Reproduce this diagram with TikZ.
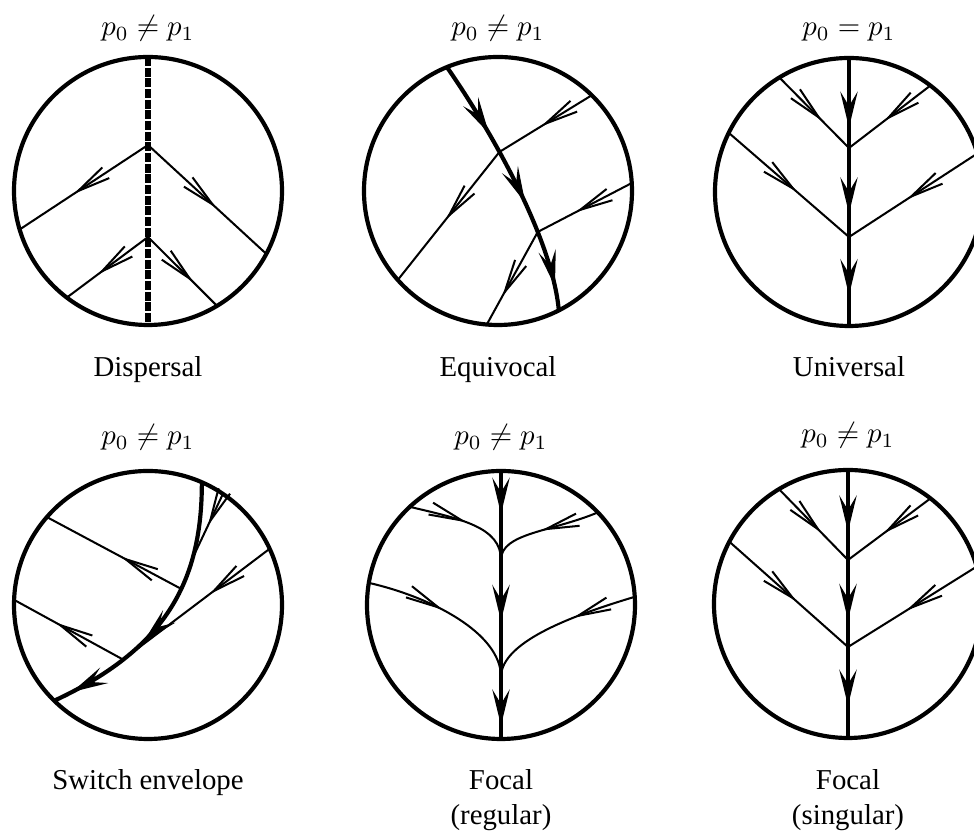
\documentclass[tikz,border=0pt]{standalone}
\usepackage{fontspec}
\setmainfont{Liberation Serif}
\usetikzlibrary{arrows.meta, decorations.markings}

\tikzset{
    smalltip/.tip={Straight Barb[length=11.5pt,width=4.4pt]},
    bigtip/.tip={Stealth[length=12.5pt,width=6pt,inset=5pt]}
}

\begin{document}
\begin{tikzpicture}[
        x=0.347pt, y=0.347pt,
        rim/.style={line width=1.45pt},
        ray/.style={line width=0.7pt},
        spine/.style={line width=1.45pt},
        dashspine/.style={line width=1.8pt, dash pattern=on 3.1pt off 0.6pt},
        smallat/.style={postaction={decorate, decoration={markings,
            mark=at position #1 with {\arrow{smalltip}}}}},
        bigat/.style={postaction={decorate, decoration={markings,
            mark=at position #1 with {\arrow{bigtip}}}}},
        paneltitle/.style={font=\normalsize, anchor=base},
        panelname/.style={font=\normalsize, align=center}
    ]

    \useasboundingbox (0,0) rectangle (974,838);

    % Dispersal
    \begin{scope}[shift={(148,647)}]
        \draw[rim] (0,0) circle (134);
        \path (90:134) coordinate (d-top) (270:134) coordinate (d-bot)
              (0,46) coordinate (d-j1) (0,-46) coordinate (d-j2)
              (196.7:134) coordinate (d-l1) (332:134) coordinate (d-r1)
              (232.7:134) coordinate (d-l2) (301:134) coordinate (d-r2);
        \draw[dashspine] (d-top) -- (d-bot);
        \draw[ray, smallat=0.58] (d-j1) -- (d-l1);
        \draw[ray, smallat=0.58] (d-j1) -- (d-r1);
        \draw[ray, smallat=0.62] (d-j2) -- (d-l2);
        \draw[ray, smallat=0.66] (d-j2) -- (d-r2);
        \node[paneltitle] (d-title) at (0,155) {$p_0\neq p_1$};
        \node[panelname, anchor=base] (d-name) at (0,-186) {Dispersal};
    \end{scope}

    % Equivocal
    \begin{scope}[shift={(498,647)}]
        \draw[rim] (0,0) circle (134);
        \path (112.4:134) coordinate (e-top) (297:134) coordinate (e-bot)
              (45.6:134) coordinate (e-a0) (221.6:134) coordinate (e-a1)
              (3.4:134) coordinate (e-b0) (265.2:134) coordinate (e-b1);
        \draw[spine, bigat=0.29, bigat=0.58, bigat=0.91]
            (e-top) .. controls (-8,62) and (54,-46) .. (e-bot)
            coordinate[pos=0.375] (e-ja) coordinate[pos=0.68] (e-jb);
        \draw[ray, smallat=0.55] (e-a0) -- (e-ja);
        \draw[ray, smallat=0.53] (e-ja) -- (e-a1);
        \draw[ray, smallat=0.6] (e-b0) -- (e-jb);
        \draw[ray, smallat=0.7] (e-jb) -- (e-b1);
        \node[paneltitle] (e-title) at (0,155) {$p_0\neq p_1$};
        \node[panelname, anchor=base] (e-name) at (0,-186) {Equivocal};
    \end{scope}

    % Universal
    \begin{scope}[shift={(849,646)}]
        \draw[rim] (0,0) circle (134);
        \path (90:134) coordinate (u-top) (270:134) coordinate (u-bot)
              (0,44) coordinate (u-j1) (0,-45) coordinate (u-j2)
              (121.3:134) coordinate (u-l1) (52.6:134) coordinate (u-r1)
              (153.8:134) coordinate (u-l2) (16.7:134) coordinate (u-r2);
        \draw[spine, bigat=0.26, bigat=0.58, bigat=0.885] (u-top) -- (u-bot);
        \draw[ray, smallat=0.62] (u-l1) -- (u-j1);
        \draw[ray, smallat=0.57] (u-r1) -- (u-j1);
        \draw[ray, smallat=0.57] (u-l2) -- (u-j2);
        \draw[ray, smallat=0.55] (u-r2) -- (u-j2);
        \node[paneltitle] (u-title) at (0,156) {$p_0 = p_1$};
        \node[panelname, anchor=base] (u-name) at (0,-185) {Universal};
    \end{scope}

    % Switch envelope
    \begin{scope}[shift={(148,233)}]
        \draw[rim] (0,0) circle (134);
        \path (66.3:134) coordinate (s-top) (225.6:134) coordinate (s-bot)
              (139:134) coordinate (s-a) (177.8:134) coordinate (s-b)
              (24.8:134) coordinate (s-c) (56:134) coordinate (s-d);
        \draw[spine, bigat=0.62, bigat=0.93]
            (s-top) .. controls (54,20) and (15,-45) .. (s-bot)
            coordinate[pos=0.27] (s-jd) coordinate[pos=0.4] (s-ja)
            coordinate[pos=0.75] (s-jb) coordinate[pos=0.8] (s-jc);
        \draw[ray, smallat=0.45] (s-ja) -- (s-a);
        \draw[ray, smallat=0.62] (s-jb) -- (s-b);
        \draw[ray, smallat=0.38] (s-c) -- (s-jc);
        \draw[ray, smallat=0.5] (s-d) -- (s-jd);
        \node[paneltitle] (s-title) at (0,160) {$p_0\neq p_1$};
        \node[panelname, anchor=base] (s-name) at (0,-185) {Switch envelope};
    \end{scope}

    % Focal (regular)
    \begin{scope}[shift={(501,233)}]
        \draw[rim] (0,0) circle (134);
        \path (90:134) coordinate (fr-top) (270:134) coordinate (fr-bot)
              (0,45) coordinate (fr-j1) (0,-72) coordinate (fr-j2)
              (132.9:134) coordinate (fr-l1) (43.7:134) coordinate (fr-r1)
              (170.5:134) coordinate (fr-l2) (3.5:134) coordinate (fr-r2);
        \draw[spine, bigat=0.16, bigat=0.56, bigat=0.95] (fr-top) -- (fr-bot);
        \draw[ray, smallat=0.52] (fr-l1) .. controls (-40,86) and (0,78) .. (fr-j1);
        \draw[ray, smallat=0.53] (fr-r1) .. controls (50,73) and (0,72) .. (fr-j1);
        \draw[ray, smallat=0.46] (fr-l2) .. controls (-70,8) and (0,-28) .. (fr-j2);
        \draw[ray, smallat=0.4] (fr-r2) .. controls (80,-8) and (0,-35) .. (fr-j2);
        \node[paneltitle] (fr-title) at (0,160) {$p_0\neq p_1$};
        \node[panelname] (fr-name) at (0,-195) {Focal\\(regular)};
    \end{scope}

    % Focal (singular)
    \begin{scope}[shift={(848,234)}]
        \draw[rim] (0,0) circle (134);
        \path (90:134) coordinate (fs-top) (270:134) coordinate (fs-bot)
              (0,44) coordinate (fs-j1) (0,-43) coordinate (fs-j2)
              (121:134) coordinate (fs-l1) (52:134) coordinate (fs-r1)
              (152.3:134) coordinate (fs-l2) (16.2:134) coordinate (fs-r2);
        \draw[spine, bigat=0.23, bigat=0.56, bigat=0.88] (fs-top) -- (fs-bot);
        \draw[ray, smallat=0.62] (fs-l1) -- (fs-j1);
        \draw[ray, smallat=0.57] (fs-r1) -- (fs-j1);
        \draw[ray, smallat=0.57] (fs-l2) -- (fs-j2);
        \draw[ray, smallat=0.55] (fs-r2) -- (fs-j2);
        \node[paneltitle] (fs-title) at (0,161) {$p_0\neq p_1$};
        \node[panelname] (fs-name) at (0,-196) {Focal\\(singular)};
    \end{scope}

\end{tikzpicture}
\end{document}
